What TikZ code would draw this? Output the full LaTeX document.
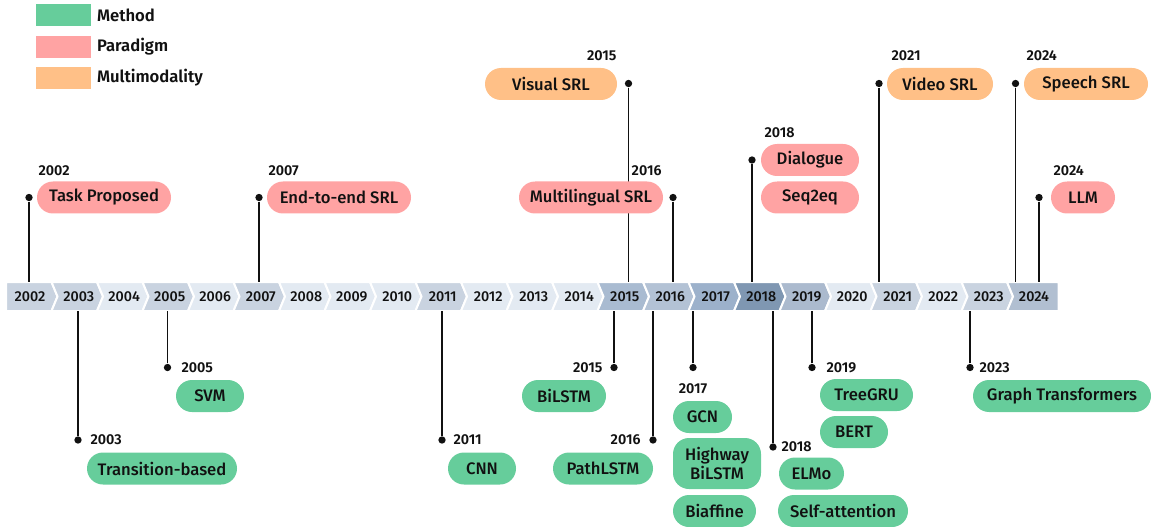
\documentclass[tikz,border=0pt]{standalone}
\usepackage{fontspec}
\setmainfont{Fira Sans}[UprightFont=* Medium, BoldFont=* SemiBold]

\definecolor{methodGreen}{HTML}{66CD9B}
\definecolor{paradigmPink}{HTML}{FFA3A3}
\definecolor{modalOrange}{HTML}{FFC087}
\definecolor{barLight}{HTML}{E3EAF2}
\definecolor{barMid}{HTML}{C9D3E0}
\definecolor{bar2015}{HTML}{A9BBD1}
\definecolor{bar2016}{HTML}{B3C2D5}
\definecolor{bar2017}{HTML}{9CB1CB}
\definecolor{bar2018}{HTML}{7F97B2}
\definecolor{bar2019}{HTML}{ABBACE}
\definecolor{bar2024}{HTML}{B1BFD1}
\definecolor{inkBlack}{HTML}{111111}

\tikzset{every picture/.style={line width=0.75pt}}
\tikzset{
  pill/.style={rounded corners=12pt, minimum height=24pt, inner sep=0pt, text=inkBlack, font=\fontsize{12.5}{14}\selectfont},
  method/.style={pill, fill=methodGreen},
  paradigm/.style={pill, fill=paradigmPink},
  modal/.style={pill, fill=modalOrange},
  yeartag/.style={inner sep=0pt, text=inkBlack, font=\bfseries\fontsize{10.75}{12}\selectfont},
  stem/.style={line width=1.1pt, draw=inkBlack},
  dot/.style={circle, fill=inkBlack, inner sep=0pt, minimum size=5.5pt},
  barcell/.style={draw=white, line width=1.5pt},
  barlabel/.style={inner sep=0pt, text=inkBlack, font=\fontsize{10.75}{12}\selectfont},
  legendbox/.style={minimum width=41.25pt, minimum height=16.5pt, inner sep=0pt},
  legendtext/.style={anchor=west, inner sep=0pt, text=inkBlack, font=\bfseries\fontsize{12.5}{14}\selectfont}
}

\begin{document}
\begin{tikzpicture}[x=0.75pt,y=0.75pt,yscale=-1,xscale=1]
	\useasboundingbox (0,0) rectangle (1151,527);

	% Legend
	\node [legendbox, fill=methodGreen] (keyMethod) at (63.5,15.5) {};
	\node [legendtext] (txtMethod) at (96.5,15.5) {Method};
	\node [legendbox, fill=paradigmPink] (keyParadigm) at (63.5,47) {};
	\node [legendtext] (txtParadigm) at (96.5,47) {Paradigm};
	\node [legendbox, fill=modalOrange] (keyModal) at (63.5,78) {};
	\node [legendtext] (txtModal) at (96.5,78) {Multimodality};

	% Year bar
	\coordinate (bartop) at (0,282);
	\coordinate (barbot) at (0,311);
	\draw [barcell, fill=barMid]   (6,282) -- (51.5,282) -- (57.5,296.5) -- (51.5,311) -- (6,311) -- cycle ;
	\draw [barcell, fill=barMid]   (51.5,282) -- (97,282) -- (103,296.5) -- (97,311) -- (51.5,311) -- (57.5,296.5) -- cycle ;
	\draw [barcell, fill=barLight] (97,282) -- (142.5,282) -- (148.5,296.5) -- (142.5,311) -- (97,311) -- (103,296.5) -- cycle ;
	\draw [barcell, fill=barMid]   (142.5,282) -- (188,282) -- (194,296.5) -- (188,311) -- (142.5,311) -- (148.5,296.5) -- cycle ;
	\draw [barcell, fill=barLight] (188,282) -- (233.5,282) -- (239.5,296.5) -- (233.5,311) -- (188,311) -- (194,296.5) -- cycle ;
	\draw [barcell, fill=barMid]   (233.5,282) -- (279,282) -- (285,296.5) -- (279,311) -- (233.5,311) -- (239.5,296.5) -- cycle ;
	\draw [barcell, fill=barLight] (279,282) -- (324.5,282) -- (330.5,296.5) -- (324.5,311) -- (279,311) -- (285,296.5) -- cycle ;
	\draw [barcell, fill=barLight] (324.5,282) -- (370,282) -- (376,296.5) -- (370,311) -- (324.5,311) -- (330.5,296.5) -- cycle ;
	\draw [barcell, fill=barLight] (370,282) -- (415.5,282) -- (421.5,296.5) -- (415.5,311) -- (370,311) -- (376,296.5) -- cycle ;
	\draw [barcell, fill=barMid]   (415.5,282) -- (461,282) -- (467,296.5) -- (461,311) -- (415.5,311) -- (421.5,296.5) -- cycle ;
	\draw [barcell, fill=barLight] (461,282) -- (506.5,282) -- (512.5,296.5) -- (506.5,311) -- (461,311) -- (467,296.5) -- cycle ;
	\draw [barcell, fill=barLight] (506.5,282) -- (552,282) -- (558,296.5) -- (552,311) -- (506.5,311) -- (512.5,296.5) -- cycle ;
	\draw [barcell, fill=barLight] (552,282) -- (597.5,282) -- (603.5,296.5) -- (597.5,311) -- (552,311) -- (558,296.5) -- cycle ;
	\draw [barcell, fill=bar2015]  (597.5,282) -- (643,282) -- (649,296.5) -- (643,311) -- (597.5,311) -- (603.5,296.5) -- cycle ;
	\draw [barcell, fill=bar2016]  (643,282) -- (688.5,282) -- (694.5,296.5) -- (688.5,311) -- (643,311) -- (649,296.5) -- cycle ;
	\draw [barcell, fill=bar2017]  (688.5,282) -- (734,282) -- (740,296.5) -- (734,311) -- (688.5,311) -- (694.5,296.5) -- cycle ;
	\draw [barcell, fill=bar2018]  (734,282) -- (779.5,282) -- (785.5,296.5) -- (779.5,311) -- (734,311) -- (740,296.5) -- cycle ;
	\draw [barcell, fill=bar2019]  (779.5,282) -- (825,282) -- (831,296.5) -- (825,311) -- (779.5,311) -- (785.5,296.5) -- cycle ;
	\draw [barcell, fill=barLight] (825,282) -- (870.5,282) -- (876.5,296.5) -- (870.5,311) -- (825,311) -- (831,296.5) -- cycle ;
	\draw [barcell, fill=barMid]   (870.5,282) -- (916,282) -- (922,296.5) -- (916,311) -- (870.5,311) -- (876.5,296.5) -- cycle ;
	\draw [barcell, fill=barLight] (916,282) -- (961.5,282) -- (967.5,296.5) -- (961.5,311) -- (916,311) -- (922,296.5) -- cycle ;
	\draw [barcell, fill=barMid]   (961.5,282) -- (1007,282) -- (1013,296.5) -- (1007,311) -- (961.5,311) -- (967.5,296.5) -- cycle ;
	\draw [barcell, fill=bar2024]  (1007,282) -- (1058.5,282) -- (1058.5,311) -- (1007,311) -- (1013,296.5) -- cycle ;

	% Text Node
	\node [barlabel] (y2002) at (30,296.5) {2002};
	\node [barlabel] (y2003) at (78.75,296.5) {2003};
	\node [barlabel] (y2004) at (124.25,296.5) {2004};
	\node [barlabel] (y2005) at (169.75,296.5) {2005};
	\node [barlabel] (y2006) at (215.25,296.5) {2006};
	\node [barlabel] (y2007) at (260.75,296.5) {2007};
	\node [barlabel] (y2008) at (306.25,296.5) {2008};
	\node [barlabel] (y2009) at (351.75,296.5) {2009};
	\node [barlabel] (y2010) at (397.25,296.5) {2010};
	\node [barlabel] (y2011) at (442.75,296.5) {2011};
	\node [barlabel] (y2012) at (488.25,296.5) {2012};
	\node [barlabel] (y2013) at (533.75,296.5) {2013};
	\node [barlabel] (y2014) at (579.25,296.5) {2014};
	\node [barlabel] (y2015) at (624.75,296.5) {2015};
	\node [barlabel] (y2016) at (670.25,296.5) {2016};
	\node [barlabel] (y2017) at (715.75,296.5) {2017};
	\node [barlabel] (y2018) at (761.25,296.5) {2018};
	\node [barlabel] (y2019) at (806.75,296.5) {2019};
	\node [barlabel] (y2020) at (852.25,296.5) {2020};
	\node [barlabel] (y2021) at (897.75,296.5) {2021};
	\node [barlabel] (y2022) at (943.25,296.5) {2022};
	\node [barlabel] (y2023) at (988.75,296.5) {2023};
	\node [barlabel] (y2024) at (1034,296.5) {2024};

	% Dots above the bar
	\node [dot] (dTask) at (29,197.5) {};
	\node [dot] (dEndToEnd) at (259,197.5) {};
	\node [dot] (dVisual) at (628.5,83.5) {};
	\node [dot] (dMultiling) at (673,197.5) {};
	\node [dot] (dDialogue) at (752,160) {};
	\node [dot] (dVideo) at (879,83.5) {};
	\node [dot] (dSpeech) at (1015.5,83.5) {};
	\node [dot] (dLLM) at (1039,197.5) {};
	% Dots below the bar
	\node [dot] (dTransition) at (78,440) {};
	\node [dot] (dSVM) at (167.5,367.5) {};
	\node [dot] (dCNN) at (442,440) {};
	\node [dot] (dBiLSTM) at (614,367.5) {};
	\node [dot] (dPathLSTM) at (653,440) {};
	\node [dot] (dGCN) at (693,367.5) {};
	\node [dot] (dELMo) at (773,447) {};
	\node [dot] (dTreeGRU) at (812,367.5) {};
	\node [dot] (dGraphTr) at (970,367.5) {};

	%Straight Lines
	\draw [stem] (dTask) -- (dTask |- bartop) ;
	\draw [stem] (dEndToEnd) -- (dEndToEnd |- bartop) ;
	\draw [stem] (dVisual) -- (dVisual |- bartop) ;
	\draw [stem] (dMultiling) -- (dMultiling |- bartop) ;
	\draw [stem] (dDialogue) -- (dDialogue |- bartop) ;
	\draw [stem] (dVideo) -- (dVideo |- bartop) ;
	\draw [stem] (dSpeech) -- (dSpeech |- bartop) ;
	\draw [stem] (dLLM) -- (dLLM |- bartop) ;
	\draw [stem] (dTransition) -- (dTransition |- barbot) ;
	\draw [stem] (dSVM) -- (dSVM |- barbot) ;
	\draw [stem] (dCNN) -- (dCNN |- barbot) ;
	\draw [stem] (dBiLSTM) -- (dBiLSTM |- barbot) ;
	\draw [stem] (dPathLSTM) -- (dPathLSTM |- barbot) ;
	\draw [stem] (dGCN) -- (dGCN |- barbot) ;
	\draw [stem] (dELMo) -- (dELMo |- barbot) ;
	\draw [stem] (dTreeGRU) -- (dTreeGRU |- barbot) ;
	\draw [stem] (dGraphTr) -- (dGraphTr |- barbot) ;

	% Text Node
	\node [yeartag, anchor=west] (tTask) at (38,171) {2002};
	\node [yeartag, anchor=west] (tEndToEnd) at (268,171) {2007};
	\node [yeartag, anchor=east] (tVisual) at (617,56) {2015};
	\node [yeartag, anchor=east] (tMultiling) at (662,171) {2016};
	\node [yeartag, anchor=west] (tDialogue) at (764,133) {2018};
	\node [yeartag, anchor=west] (tVideo) at (891,56) {2021};
	\node [yeartag, anchor=west] (tSpeech) at (1026,56) {2024};
	\node [yeartag, anchor=west] (tLLM) at (1053,171) {2024};
	\node [yeartag, anchor=west] (tTransition) at (90,440) {2003};
	\node [yeartag, anchor=west] (tSVM) at (181,367.5) {2005};
	\node [yeartag, anchor=west] (tCNN) at (453,440) {2011};
	\node [yeartag, anchor=east] (tBiLSTM) at (603,367.5) {2015};
	\node [yeartag, anchor=east] (tPathLSTM) at (641,440) {2016};
	\node [yeartag] (tGCN) at (693,389) {2017};
	\node [yeartag, anchor=west] (tELMo) at (781,447) {2018};
	\node [yeartag, anchor=west] (tTreeGRU) at (826,367.5) {2019};
	\node [yeartag, anchor=west] (tGraphTr) at (979,367.5) {2023};

	% Paradigm and multimodality boxes
	\node [paradigm, minimum width=100.5pt] (taskProposed) at (104,197.5) {Task Proposed};
	\node [paradigm, minimum width=108pt] (endToEnd) at (339,197.5) {End-to-end SRL};
	\node [modal, minimum width=99pt] (visualSRL) at (551,84) {Visual SRL};
	\node [paradigm, minimum width=108pt] (multilingual) at (591,197.5) {Multilingual SRL};
	\node [paradigm, minimum width=73.5pt] (dialogue) at (810,160) {Dialogue};
	\node [paradigm, minimum width=73.5pt] (seqToSeq) at (810,197.5) {Seq2eq};
	\node [modal, minimum width=79.5pt] (videoSRL) at (940,84) {Video SRL};
	\node [modal, minimum width=93pt] (speechSRL) at (1086,84) {Speech SRL};
	\node [paradigm, minimum width=48pt] (llm) at (1083,197.5) {LLM};

	% Method boxes
	\node [method, minimum width=51pt] (svm) at (210,396) {SVM};
	\node [method, minimum width=112.5pt] (transition) at (162,468.5) {Transition-based};
	\node [method, minimum width=51pt] (cnn) at (482,468.5) {CNN};
	\node [method, minimum width=63pt] (bilstm) at (564,396) {BiLSTM};
	\node [method, minimum width=75pt] (pathlstm) at (603,468.5) {PathLSTM};
	\node [method, minimum width=44.25pt] (gcn) at (702.5,417) {GCN};
	\node [method, minimum width=66pt, minimum height=38.25pt, align=center] (highway) at (717,463.5) {Highway\\BiLSTM};
	\node [method, minimum width=62.25pt] (biaffine) at (714.5,511) {Biaffine};
	\node [method, minimum width=48.75pt] (elmo) at (811.5,473.5) {ELMo};
	\node [method, minimum width=97.5pt] (selfAttn) at (843,511) {Self-attention};
	\node [method, minimum width=69.75pt] (treegru) at (866.5,395) {TreeGRU};
	\node [method, minimum width=51pt] (bert) at (854,432) {BERT};
	\node [method, minimum width=133.5pt] (graphTr) at (1062,396) {Graph Transformers};

\end{tikzpicture}
\end{document}
